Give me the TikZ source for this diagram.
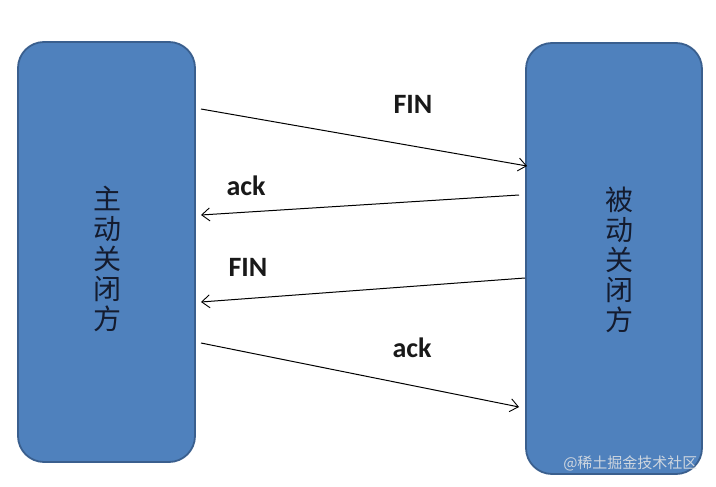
\documentclass[tikz,border=0pt]{standalone}
\usepackage{fontspec}
\setmainfont{Carlito}
\newfontfamily\cjk{Noto Sans CJK SC}
\usetikzlibrary{arrows.meta}
\definecolor{boxfill}{HTML}{4F81BD}
\definecolor{boxline}{HTML}{3A5F8E}
\definecolor{cjktext}{HTML}{141B2E}
\tikzset{
  party/.style={draw=boxline, line width=1.8pt, fill=boxfill, rounded corners=26pt, inner sep=0pt},
  msg/.style={line width=1pt, -{Straight Barb[length=8pt,width=13pt,line width=0.9pt]}},
  msglabel/.style={font=\fontsize{28}{32}\selectfont\bfseries, text=black!90},
  vlabel/.style={font=\cjk\fontsize{28}{30}\selectfont, text=cjktext, align=center},
}
\begin{document}
\begin{tikzpicture}[x=1pt,y=-1pt]
\useasboundingbox (0,0) rectangle (716,487);
\node[party, minimum width=177pt, minimum height=420pt] (L) at (106.5,252) {};
\node[party, minimum width=176pt, minimum height=431pt] (R) at (614,258.5) {};
\node[vlabel] (Lt) at (107,259) {主\\动\\关\\闭\\方};
\node[vlabel] (Rt) at (619,260) {被\\动\\关\\闭\\方};
% endpoints
\coordinate (a1) at (201,109);
\coordinate (b1) at (527,166);
\coordinate (a2) at (519,195);
\coordinate (b2) at (201,215);
\coordinate (a3) at (525,278);
\coordinate (b3) at (201,302);
\coordinate (a4) at (201,343);
\coordinate (b4) at (519,407);
\draw[msg] (a1) -- (b1);
\draw[msg] (a2) -- (b2);
\draw[msg] (a3) -- (b3);
\draw[msg] (a4) -- (b4);
\node[msglabel] (l1) at (413,104) {FIN};
\node[msglabel] (l2) at (246,186) {ack};
\node[msglabel] (l3) at (248,267) {FIN};
\node[msglabel] (l4) at (412,348) {ack};
\node[font=\cjk\fontsize{15}{18}\selectfont, text=white!80!gray, opacity=0.85, anchor=east] (wm) at (701,463) {@稀土掘金技术社区};
\end{tikzpicture}
\end{document}
